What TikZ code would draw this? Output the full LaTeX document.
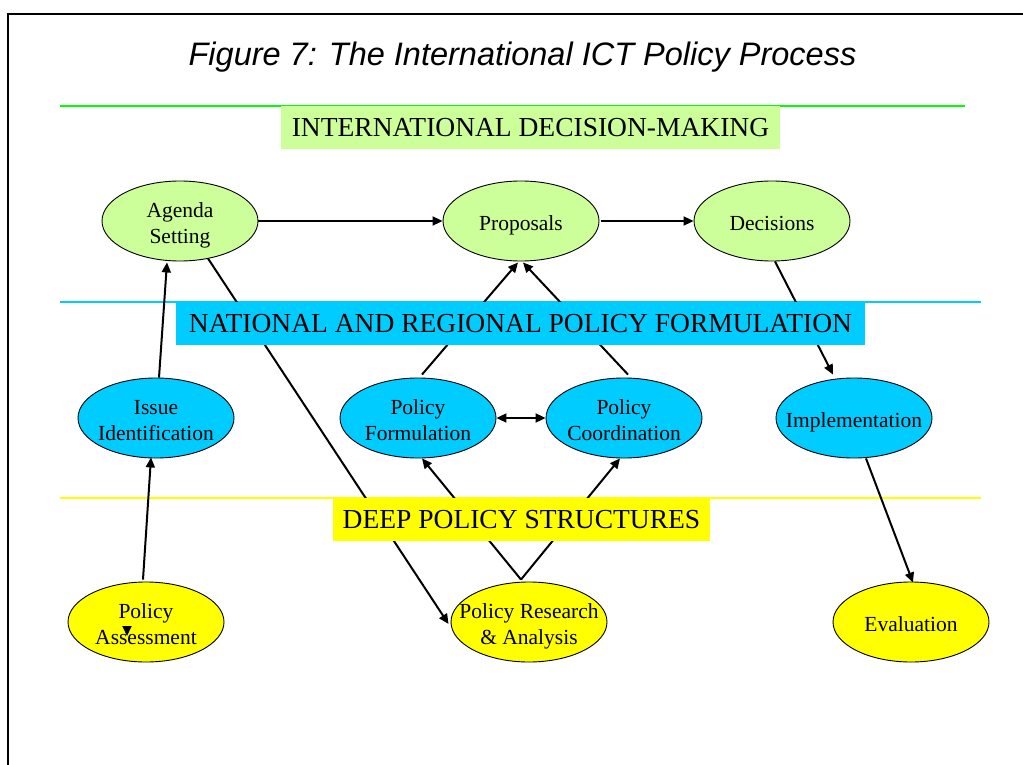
\documentclass[tikz,border=0pt]{standalone}
\usepackage{fontspec}
\setmainfont{Liberation Serif}
\newfontfamily\titlefont{Liberation Sans}
\usetikzlibrary{shapes.geometric,arrows.meta}
\definecolor{lgreen}{HTML}{CCFF99}
\definecolor{bgreen}{HTML}{00FF00}
\definecolor{cyanb}{HTML}{00CCFF}
\definecolor{yel}{HTML}{FFFF00}
\newcommand{\ovtext}[1]{\raisebox{-9pt}[0pt][0pt]{\makebox[0pt]{\begin{tabular}{@{}c@{}}#1\end{tabular}}}}
\tikzset{
  oval/.style={ellipse, draw=black, line width=0.9pt, minimum width=156pt, minimum height=80pt,
    inner sep=0pt, font=\fontsize{21.5}{26}\selectfont},
  greenoval/.style={oval, fill=lgreen},
  blueoval/.style={oval, fill=cyanb},
  yellowoval/.style={oval, fill=yel},
  arr/.style={line width=2pt, -{Triangle[length=10pt,width=9pt]}},
  dblarr/.style={line width=2pt, {Triangle[length=10pt,width=9pt]}-{Triangle[length=10pt,width=9pt]}},
  band/.style={inner sep=0pt, minimum height=43pt, font=\fontsize{27.5}{33}\selectfont},
  sepline/.style={line width=2pt}
}
\begin{document}
\begin{tikzpicture}[x=1pt,y=-1pt]
\useasboundingbox (0,0) rectangle (1023,765);
% frame
\draw[line width=2.2pt] (8,790) -- (8,14) -- (1040,14);
% title
\node[anchor=base, font=\titlefont\itshape\fontsize{32.5}{39}\selectfont] (title) at (522.5,66) {Figure 7: The International ICT Policy Process};
% separator lines
\draw[sepline, bgreen] (60,106) -- (965,106);
\draw[sepline, cyanb] (60,302) -- (981,302);
\draw[sepline, yel] (60,498) -- (981,498);
% ellipses
\node[greenoval] (agenda) at (180,221) {\ovtext{Agenda\\Setting}};
\node[greenoval] (prop) at (521,221) {\ovtext{Proposals}};
\node[greenoval] (dec) at (772,221) {\ovtext{Decisions}};
\node[blueoval] (ii) at (156,418) {\ovtext{Issue\\Identification}};
\node[blueoval] (pf) at (418,418) {\ovtext{Policy\\Formulation}};
\node[blueoval] (pc) at (624,418) {\ovtext{Policy\\Coordination}};
\node[blueoval] (impl) at (854,418) {\ovtext{Implementation}};
\node[yellowoval] (pa) at (146,622) {\ovtext{Policy\\Assessment}};
\node[yellowoval] (pra) at (529,622) {\ovtext{Policy Research\\\& Analysis}};
\node[yellowoval] (eval) at (911,622) {\ovtext{Evaluation}};
% connectors
\draw[arr] (agenda.east) -- (prop.west);
\draw[arr] ([xshift=2pt]prop.east) -- (dec.west);
\draw[arr] ([xshift=4pt,yshift=3pt]pf.north) -- ([xshift=-3pt,yshift=-1pt]prop.south);
\draw[arr] ([xshift=4pt,yshift=3pt]pc.north) -- ([xshift=2pt,yshift=-1pt]prop.south);
\draw[dblarr] (pf.east) -- (pc.west);
\draw[arr] ([xshift=3pt]dec.south) -- ([xshift=-21pt,yshift=3pt]impl.north);
\draw[arr] ([xshift=12pt]impl.south) -- ([xshift=2pt,yshift=-1pt]eval.north);
\draw[arr] ([xshift=3pt]ii.north) -- ([xshift=-13pt,yshift=-1pt]agenda.south);
\draw[arr] ([xshift=-3pt,yshift=2pt]pa.north) -- ([xshift=-5pt,yshift=1pt]ii.south);
\draw[arr] ([xshift=28pt,yshift=3pt]agenda.south) -- ([xshift=-2pt,yshift=-2pt]pra.west);
\draw[arr] ([xshift=-8pt,yshift=2pt]pra.north) -- ([xshift=4pt]pf.south);
\draw[arr] ([xshift=-8pt,yshift=2pt]pra.north) -- ([xshift=-4pt]pc.south);
% stray arrowhead inside Policy Assessment
\coordinate (stubA) at (127,626);
\coordinate (stubB) at (127,636);
\draw[arr] (stubA) -- (stubB);
% bands (on top of connectors)
\node[band, fill=lgreen, minimum width=499pt] (bandA) at (530.5,127.5) {INTERNATIONAL DECISION-MAKING};
\node[band, fill=cyanb, minimum width=689pt] (bandB) at (520.5,323.5) {NATIONAL AND REGIONAL POLICY FORMULATION};
\node[band, fill=yel, minimum width=377pt] (bandC) at (521.5,519.5) {DEEP POLICY STRUCTURES};
\end{tikzpicture}
\end{document}
